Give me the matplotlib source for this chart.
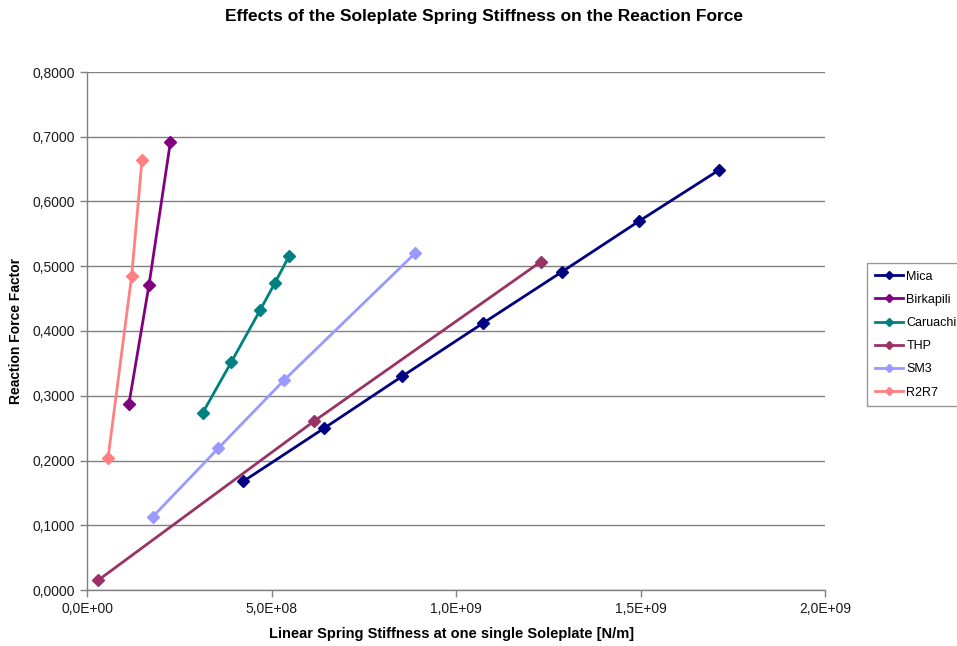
import matplotlib
matplotlib.use("Agg")
import matplotlib.pyplot as plt
from matplotlib.ticker import FuncFormatter, MultipleLocator

plt.rcParams['font.family'] = ['Liberation Sans', 'DejaVu Sans']

# Stiffness [N/m] and reaction force factor per project
mica_x = [0.424e9, 0.643e9, 0.854e9, 1.073e9, 1.286e9, 1.497e9, 1.714e9]
mica_y = [0.168, 0.250, 0.330, 0.412, 0.491, 0.570, 0.649]

birkapili_x = [0.1135e9, 0.168e9, 0.226e9]
birkapili_y = [0.287, 0.471, 0.692]

caruachi_x = [0.314e9, 0.391e9, 0.469e9, 0.509e9, 0.548e9]
caruachi_y = [0.274, 0.352, 0.432, 0.474, 0.516]

thp_x = [0.030e9, 0.616e9, 1.230e9]
thp_y = [0.015, 0.261, 0.507]

sm3_x = [0.178e9, 0.356e9, 0.534e9, 0.889e9]
sm3_y = [0.113, 0.219, 0.324, 0.520]

r2r7_x = [0.057e9, 0.121e9, 0.149e9]
r2r7_y = [0.204, 0.485, 0.664]

series = [
    ("Mica", mica_x, mica_y, "#000080"),
    ("Birkapili", birkapili_x, birkapili_y, "#800080"),
    ("Caruachi", caruachi_x, caruachi_y, "#008080"),
    ("THP", thp_x, thp_y, "#993366"),
    ("SM3", sm3_x, sm3_y, "#9999FF"),
    ("R2R7", r2r7_x, r2r7_y, "#FF8080"),
]

W, H = 957, 646
fig = plt.figure(figsize=(W / 100, H / 100), dpi=100)
ax = fig.add_axes([87 / W, 1 - 590 / H, (825 - 87) / W, (590 - 72) / H])

for name, xs, ys, col in series:
    ax.plot(xs, ys, color=col, lw=2, marker='D', ms=6, mec=col, mfc=col,
            label=name, zorder=3)

ax.set_xlim(0, 2.0e9)
ax.set_ylim(0, 0.8)
ax.xaxis.set_major_locator(MultipleLocator(0.5e9))
ax.yaxis.set_major_locator(MultipleLocator(0.1))


def fmt_x(v, pos):
    s = f"{v:.1E}".replace('.', ',')
    mant, exp = s.split('E')
    sign = exp[0]
    digits = exp[1:].lstrip('0').rjust(2, '0')
    return f"{mant}E{sign}{digits}"


ax.xaxis.set_major_formatter(FuncFormatter(fmt_x))
ax.yaxis.set_major_formatter(FuncFormatter(lambda v, p: f"{v:.4f}".replace('.', ',')))

ax.grid(axis='y', color='#808080', lw=1)
ax.set_axisbelow(True)
for side in ('top', 'right'):
    ax.spines[side].set_visible(False)
for side in ('left', 'bottom'):
    ax.spines[side].set_color('#808080')
    ax.spines[side].set_linewidth(1)
ax.tick_params(axis='both', colors='#808080', labelcolor='#1a1a1a', labelsize=10,
               length=5, width=1, direction='out')

fig.text(452 / W, 1 - 634 / H, "Linear Spring Stiffness at one single Soleplate [N/m]",
         ha='center', va='center', fontsize=10.5, fontweight='bold')
ax.set_ylabel("Reaction Force Factor", fontsize=10, fontweight='bold', labelpad=7)

fig.text(484 / W, 1 - 16 / H, "Effects of the Soleplate Spring Stiffness on the Reaction Force",
         ha='center', va='center', fontsize=12.5, fontweight='bold')

leg = ax.legend(loc='upper left', bbox_to_anchor=(867 / W, 1 - 263 / H),
                bbox_transform=fig.transFigure, borderaxespad=0, fontsize=9,
                frameon=True, fancybox=False, edgecolor='#808080',
                handlelength=2.3, handletextpad=0.25, labelspacing=0.9,
                borderpad=0.6, markerscale=0.7)
leg.get_frame().set_linewidth(1)

fig.savefig("out.png", dpi=100)
